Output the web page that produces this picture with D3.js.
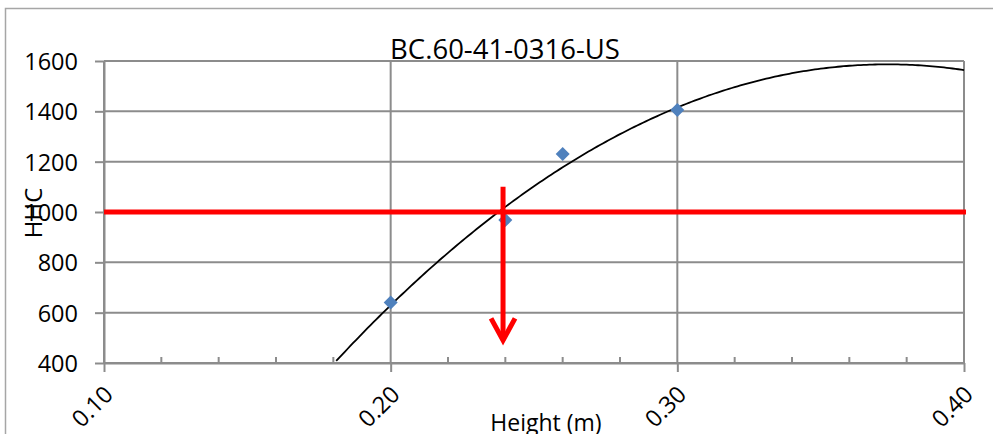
<!DOCTYPE html>
<html>
<head>
<meta charset="utf-8">
<script src="https://cdn.jsdelivr.net/npm/d3@7"></script>
<style>
  body { margin: 0; background: #fff; }
  text { font-family: "Open Sans", "Noto Sans", sans-serif; fill: #000; }
</style>
</head>
<body>
<div id="chart"></div>
<script>
// Data
const heights = [0.20, 0.24, 0.26, 0.30];
const hhc = [640, 968, 1230, 1405];
const xTicks = [0.10, 0.20, 0.30, 0.40];
const xMinorTicks = [0.12, 0.14, 0.16, 0.18, 0.22, 0.24, 0.26, 0.28, 0.32, 0.34, 0.36, 0.38];
const yTicks = [400, 600, 800, 1000, 1200, 1400, 1600];
const targetHHC = [1000];
const arrowX = [0.2392];
const arrowY = [1100, 490];

const svgWidth = 993, svgHeight = 434;
const margin = { top: 61, right: 29, bottom: 71, left: 104 };
const innerWidth = svgWidth - margin.left - margin.right;
const innerHeight = svgHeight - margin.top - margin.bottom;
const grid = "#8c8c8c";

// Scales
const xScale = d3.scaleLinear().domain([0.10, 0.40]).range([0, innerWidth]);
const yScale = d3.scaleLinear().domain([400, 1600]).range([innerHeight, 0]);

const svg = d3.select("#chart").append("svg")
    .attr("width", svgWidth)
    .attr("height", svgHeight);

// chart frame (cut off at right and bottom, like the picture)
svg.append("path")
    .attr("d", "M5.5,434 V8.5 H993")
    .attr("fill", "none")
    .attr("stroke", "#a6a6a6")
    .attr("stroke-width", 1.5);

const g = svg.append("g")
    .attr("transform", `translate(${margin.left}, ${margin.top})`);

// Horizontal gridlines
g.selectAll(".hgrid")
  .data(yTicks)
  .join("line")
    .attr("x1", 0).attr("x2", innerWidth)
    .attr("y1", d => yScale(d)).attr("y2", d => yScale(d))
    .attr("stroke", grid).attr("stroke-width", 2);

// Vertical gridlines
g.selectAll(".vgrid")
  .data(xTicks)
  .join("line")
    .attr("x1", d => xScale(d)).attr("x2", d => xScale(d))
    .attr("y1", 0).attr("y2", innerHeight)
    .attr("stroke", grid).attr("stroke-width", 2);

// Minor ticks on x axis (inside)
g.selectAll(".minor")
  .data(xMinorTicks)
  .join("line")
    .attr("x1", d => xScale(d)).attr("x2", d => xScale(d))
    .attr("y1", innerHeight - 6).attr("y2", innerHeight)
    .attr("stroke", grid).attr("stroke-width", 2);

// Axes
const xAxis = g.append("g")
    .attr("transform", `translate(0, ${innerHeight})`)
    .call(d3.axisBottom(xScale).tickValues(xTicks).tickSize(9).tickSizeOuter(0).tickFormat(d3.format(".2f")));

const yAxis = g.append("g")
    .call(d3.axisLeft(yScale).tickValues(yTicks).tickSize(9).tickSizeOuter(0).tickPadding(17).tickFormat(d3.format("d")));

[xAxis, yAxis].forEach(a => {
  a.select(".domain").attr("stroke", grid).attr("stroke-width", 2);
  a.selectAll(".tick line").attr("stroke", grid).attr("stroke-width", 2);
  a.selectAll("text").style("font-size", "23.5px").style("font-family", "'Open Sans', sans-serif");
});

yAxis.selectAll("text").attr("dy", "0.36em");

xAxis.selectAll("text")
    .attr("text-anchor", "end")
    .attr("dy", null)
    .attr("y", 0)
    .attr("transform", "translate(10, 33) rotate(-45)");

// Trendline: least squares quadratic fit of the points (as the spreadsheet does)
const pts = heights.map((h, i) => ({ x: h, y: hhc[i] }));
function quadFit(data) {
  let s = [0, 0, 0, 0, 0], t = [0, 0, 0];
  data.forEach(d => {
    for (let k = 0; k < 5; k++) s[k] += Math.pow(d.x, k);
    for (let k = 0; k < 3; k++) t[k] += d.y * Math.pow(d.x, k);
  });
  const M = [[s[0], s[1], s[2], t[0]], [s[1], s[2], s[3], t[1]], [s[2], s[3], s[4], t[2]]];
  for (let i = 0; i < 3; i++) {
    for (let j = i + 1; j < 3; j++) {
      const f = M[j][i] / M[i][i];
      for (let k = i; k < 4; k++) M[j][k] -= f * M[i][k];
    }
  }
  const c = [0, 0, 0];
  for (let i = 2; i >= 0; i--) {
    let v = M[i][3];
    for (let k = i + 1; k < 3; k++) v -= M[i][k] * c[k];
    c[i] = v / M[i][i];
  }
  return x => c[0] + c[1] * x + c[2] * x * x;
}
const trend = quadFit(pts);
const trendPts = d3.range(0.10, 0.4001, 0.001).map(x => ({ x: x, y: trend(x) })).filter(d => d.y >= 400);

g.append("path")
    .datum(trendPts)
    .attr("fill", "none")
    .attr("stroke", "#000")
    .attr("stroke-width", 1.8)
    .attr("d", d3.line().x(d => xScale(d.x)).y(d => yScale(d.y)));

// Data points (diamonds)
g.selectAll(".pt")
  .data(pts)
  .join("path")
    .attr("transform", d => `translate(${xScale(d.x)}, ${yScale(d.y)})`)
    .attr("d", "M0,-7 L7,0 L0,7 L-7,0 Z")
    .attr("fill", "#4f81bd");

// Red target line
g.selectAll(".target")
  .data(targetHHC)
  .join("line")
    .attr("x1", 0).attr("x2", innerWidth + 2)
    .attr("y1", d => yScale(d)).attr("y2", d => yScale(d))
    .attr("stroke", "#ff0000").attr("stroke-width", 5);

// Red arrow down to the height
const ax = xScale(arrowX[0]);
g.append("line")
    .attr("x1", ax).attr("x2", ax)
    .attr("y1", yScale(arrowY[0])).attr("y2", yScale(arrowY[1]))
    .attr("stroke", "#ff0000").attr("stroke-width", 5);
g.append("path")
    .attr("d", `M${ax - 12},${yScale(arrowY[1]) - 22} L${ax},${yScale(arrowY[1])} L${ax + 12},${yScale(arrowY[1]) - 22}`)
    .attr("fill", "none")
    .attr("stroke", "#ff0000").attr("stroke-width", 5)
    .attr("stroke-linejoin", "miter");

// Title and axis labels
svg.append("text")
    .attr("x", 505).attr("y", 59)
    .attr("text-anchor", "middle")
    .style("font-size", "27.5px")
    .text("BC.60-41-0316-US");

svg.append("text")
    .attr("x", 546).attr("y", 431)
    .attr("text-anchor", "middle")
    .style("font-size", "23px")
    .text("Height (m)");

svg.append("text")
    .attr("transform", "translate(42, 213) rotate(-90)")
    .attr("text-anchor", "middle")
    .style("font-size", "24px")
    .text("HHC");
</script>
</body>
</html>
